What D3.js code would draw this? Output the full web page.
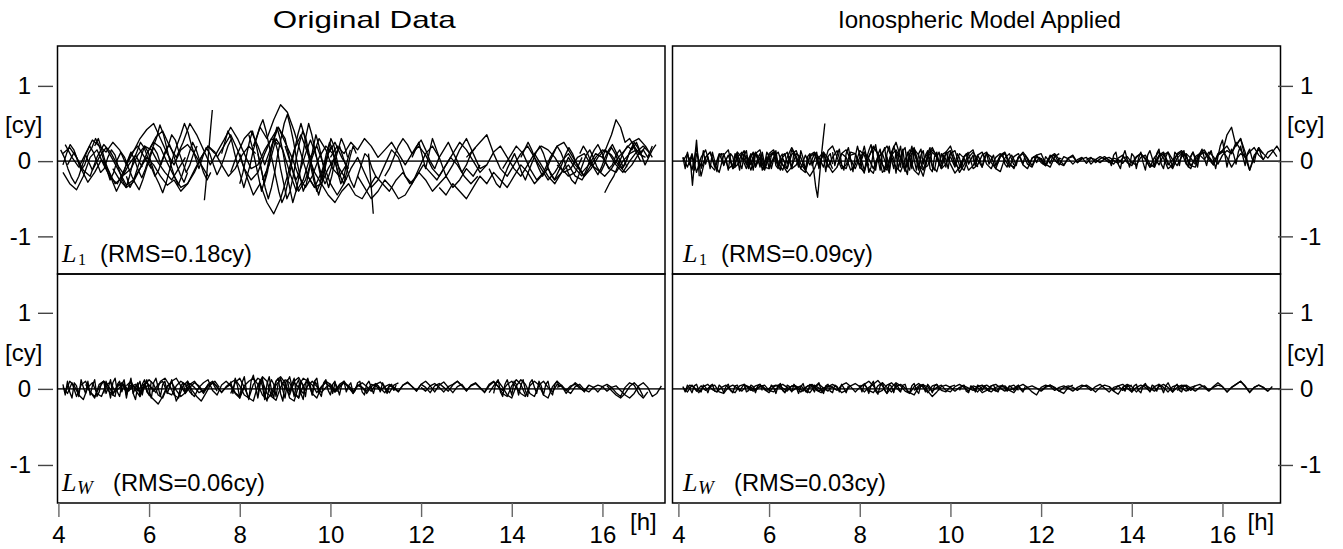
<!DOCTYPE html>
<html>
<head>
<meta charset="utf-8">
<script src="https://cdn.jsdelivr.net/npm/d3@7"></script>
<style>
body { margin: 0; background: #fff; }
text { font-family: "Liberation Sans", sans-serif; fill: #000; }
</style>
</head>
<body>
<svg id="chart"></svg>
<script>
// tick labels and titles
var hourTicks = [4, 6, 8, 10, 12, 14, 16]
var cyTicks = [-1, 0, 1]
var columnTitles = ["Original Data", "Ionospheric Model Applied"]
var rmsTexts = ["(RMS=0.18cy)", "(RMS=0.09cy)", "(RMS=0.06cy)", "(RMS=0.03cy)"]
var signalSubs = ["1", "1", "W", "W"]

// L1, original data: start hour, step (h), residuals in cycles
var l1OrigStart = [4.10, 4.10, 4.15, 4.20, 4.60, 5.20, 6.00, 7.22, 7.50, 7.80, 8.00, 8.30, 8.50, 9.50, 10.00, 10.60, 10.84, 11.80, 12.40, 13.00, 13.80, 14.50, 15.00, 16.00, 16.05,
  4.05, 4.10, 4.80, 5.50, 7.60, 8.00, 8.20, 8.40, 9.00, 11.20, 13.50, 14.20, 15.50]
var l1OrigStep = [.15, .15, .15, .15, .15, .15, .15, .035, .15, .15, .15, .15, .15, .15, .15, .15, .035, .15, .15, .15, .15, .15, .15, .1, .1,
  .08, .08, .08, .08, .07, .07, .07, .07, .08, .1, .08, .08, .08]
var l1OrigVals = [
  [.1,.18,.05,-.12,-.2,.05,.22,.12,-.05,-.18,-.1,.08,.2,.15,-.02,-.15,-.25,-.1,.05],
  [-.15,-.3,-.38,-.2,.05,.15,-.05,-.22,-.3,-.12,.1,.2,.05,-.1],
  [.22,.05,-.08,.1,.28,.2,.12,.25,.15,-.05,.12,.3,.42,.5,.3,.1,-.05,.15,.22,.1,-.05,-.2],
  [-.05,.12,-.1,-.28,-.15,.02,-.12,-.3,-.22,-.05,.08,-.08],
  [.08,-.12,.05,.18,.02,-.15,-.32,-.25,-.1,.1,.25,.18,-.02,-.2,-.35,-.3,-.12,.05,.2,.1],
  [-.1,-.25,-.35,-.28,-.1,.05,-.05,-.2,-.32,-.25,-.4,-.3,-.15,.05,.2,.12,-.05,-.2,-.1,.08,.2,.1],
  [.15,.32,.4,.2,.05,.25,.5,.35,.15,-.05,.12,.28,.45,.3,.1,-.1,-.05,.15,.3,.22],
  [-.52,-.3,-.05,.2,.45,.68],
  [.05,.2,.35,.15,-.1,-.25,-.15,.1,.3,.45,.25,.05,-.2,-.35,-.2,.05,.2,.1,-.1,-.25],
  [-.15,.1,.3,.4,.2,-.05,.2,.45,.3,-.1,-.4,-.25,.05,.3,.15,-.1,-.2,-.05],
  [.1,-.2,-.45,-.3,-.55,-.7,-.5,-.2,.15,.35,.1,-.15,-.3,-.1,.05],
  [.2,.45,.3,.55,.75,.65,.4,.1,-.2,-.35,-.15,.1,.25,.05,-.1],
  [-.25,-.05,.3,.15,-.15,-.4,-.25,.05,.2,-.05,-.3,-.45,-.3,-.1,.05,-.15,-.35,-.25,-.05,.15,.05,-.2,-.3,-.1,.1,.2,.05],
  [-.2,-.35,-.3,-.45,-.55,-.4,-.3,-.45,-.5,-.35,-.2,-.3,-.4,-.25,-.15,-.3,-.2,-.05,-.15,-.25,-.1,.05,-.05,-.2,-.3,-.2],
  [.05,.2,.1,.25,.15,.3,.2,.05,.15,.25,.1,-.05,.1,.2,.08,-.1,-.2,-.05,.1,.25,.15,0,-.15,-.05],
  [-.2,-.35,-.5,-.4,-.25,-.35,-.5,-.45,-.3,-.15,-.25,-.4,-.3,-.2,-.35,-.25,-.1,-.2,-.05],
  [.1,-.15,-.42,-.7],
  [.05,.25,-.1,.3,.05,-.2,-.05,.15,.3,.1,-.1,-.05,.12,.2,.05,-.1,-.2,-.05,.1,.2,.15,.05,-.1,-.2,-.15,.05],
  [-.35,-.45,-.3,-.4,-.5,-.35,-.2,-.3,-.15,-.25,-.35,-.2,-.05,-.15,-.3,-.2,-.1,-.25,-.15,.05,-.1,-.2],
  [.05,.15,.25,.35,.1,-.1,-.2,-.05,.1,.2,.05,-.1,-.25,-.15,0,.1,-.05,-.15,-.05,.1,.05,-.1,-.15,0,.1,.15,.05],
  [-.1,.05,.2,.1,-.1,-.25,-.15,.05,.2,.25,.1,-.05,-.2,-.1,.05,.15,.08,-.05,-.15,-.05,.1,.05],
  [.1,-.05,-.2,-.3,-.15,-.05,-.2,-.25,-.1,.05,.15,.1,-.05,-.15,0,.12,.2,.1],
  [-.05,-.15,-.1,.05,.1,-.05,-.12,-.2,-.1,.05,.15,.25,.3,.2,.05],
  [.05,.2,.35,.55,.45,.25,.3,.2,.1,.15,.05,.2],
  [-.42,-.3,-.2,-.05,.1,.2,.15,.25,.1,.2],
  [.15,.05,-.1,-.22,-.3,-.2,-.05,.1,.2,.12,-.02,-.15,-.1,.05,.15,.08,-.1,-.25,-.35,-.2,0,.12,.25,.18,.05,-.08,-.2,-.12,.02,.15,.22,.1,-.05,-.18,-.28,-.15],
  [-.05,.1,.22,.15,.02,-.12,-.05,.1,.18,.3,.2,.05,-.1,-.25,-.15,.02,.12,.05,-.08,-.2,-.3,-.38,-.25,-.1,.05,.18,.1,-.05,.08,.2,.35,.28,.12,-.02,-.15,-.05,.1,.2],
  [.2,.3,.15,-.02,-.15,-.28,-.4,-.3,-.15,0,.12,.02,-.12,-.22,-.1,.05,.18,.3,.48,.35,.15,-.05,-.2,-.32,-.2,-.05,.1,.25,.15,0,-.15,-.25,-.15],
  [-.2,-.35,-.25,-.1,.05,.2,.12,-.05,-.2,-.3,-.42,-.28,-.1,.08,.22,.35,.5,.38,.2,.05,-.1,.05,.18,.1,-.05,-.18,-.08,.05,.2,.3],
  [.1,.25,.4,.3,.12,-.05,-.2,-.35,-.2,-.05,.15,.3,.45,.55,.4,.2,0,-.2,-.4,-.55,-.45,-.25,-.05,.15,.35,.5,.35,.15,-.05,-.25,-.4,-.3,-.1,.1,.25,.15,-.05,-.2],
  [-.3,-.15,.05,.25,.4,.25,.05,-.15,-.35,-.5,-.35,-.15,.1,.3,.5,.62,.45,.25,0,-.2,-.4,-.3,-.1,.15,.35,.2,0,-.2,-.35,-.2,0,.15,.3,.2,.05],
  [.35,.2,0,-.2,-.4,-.25,-.05,.15,.3,.15,-.1,-.3,-.5,-.4,-.2,.05,.25,.4,.3,.1,-.1,-.3,-.45,-.3,-.1,.1,.2,.05,-.15,-.3,-.2,0,.15],
  [.1,-.1,-.3,-.15,.1,.3,.45,.3,.1,-.15,-.35,-.55,-.4,-.2,.05,.3,.5,.35,.15,-.05,-.25,-.1,.1,.3,.2,0,-.2,-.3,-.15,.05,.2,.1],
  [.2,.05,-.1,-.25,-.15,0,.15,.28,.15,0,-.18,-.3,-.2,-.05,.1,.2,.05,-.1,-.25,-.35,-.2,-.05,.1,.05,-.1,-.2],
  [-.2,-.1,.05,.2,.3,.22,.1,.2,.28,.15,0,-.1,.05,.15,.25,.12,0,-.15,-.05,.1,.18],
  [-.1,-.2,-.3,-.35,-.22,-.1,0,.1,-.02,-.15,-.25,-.12,0,.12,.2,.1,-.05,-.18,-.25,-.15,-.05,.08,.18,.1,-.02,-.12,-.2,-.1,.05,.15,.22,.12,0,-.1,-.05,.08,.15,.05,-.08],
  [.05,.15,.25,.15,.02,-.1,-.2,-.12,0,.1,.2,.12,0,-.15,-.25,-.3,-.18,-.05,.08,.15,.05,-.08,-.15,-.05,.1,.18,.1,-.02,-.1,0,.12,.2,.1,0],
  [.1,.2,.12,0,-.1,-.18,-.08,.05,.15,.22,.12,.02,-.08,.02,.15,.25,.18,.08,-.05,.05,.15,.22]
]

// L1, ionospheric model applied
var l1ModStart = [4.10, 4.10, 4.25, 4.50, 5.50, 6.30, 6.95, 7.00, 7.50, 8.00, 9.00, 10.00, 11.00, 12.00, 13.00, 14.00, 14.50, 15.50,
  4.10, 5.20, 7.40, 8.00, 8.60, 10.50, 13.50, 15.20]
var l1ModStep = [.1, .1, .03, .1, .1, .1, .04, .1, .1, .1, .1, .1, .1, .1, .1, .1, .1, .1,
  .05, .05, .05, .05, .05, .05, .05, .05]
var l1ModVals = [
  [0,.1,-.12,.18,-.2,.05,.12,-.08,.1,-.05,.08,-.1,.05,.12,-.05,.1,-.08,.05,-.1,.08,.12,-.06,.04,-.1,.09,.14,-.04,-.12,.06,.1],
  [.05,-.08,.1,-.15,.05,.15,-.05,-.12,.08,.1,-.1,-.05,.12,.05,-.1,.08,.1,-.05,-.12,.05,.1,-.08,.05,.12,-.1,-.05,.08],
  [.05,-.1,-.32,-.12,.1,.28,.05,-.2],
  [-.1,.05,.12,-.05,-.15,.08,.15,-.1,-.05,.1,.05,-.12,.1,.15,-.08,-.1,.05,.12,-.05,-.1,.15,.05,-.1,.08,-.05,.1,-.08,.12,.04,-.1],
  [.08,-.05,.12,.02,-.1,.1,.15,-.02,-.12,.05,.18,.06,-.1,-.15,.08,.12,-.04,.1,-.08,.05,.14,-.06,-.1,.08,.1,-.05,.12,.03,-.1,.06,.1,-.08],
  [-.05,-.15,-.08,.1,.05,-.12,-.2,-.1,.05,.12,-.05,-.15,-.08,.1,.15,.02,-.1,.05,.12,-.06],
  [0,-.15,-.35,-.48,-.22,.05,.28,.5],
  [.12,.05,-.08,.14,.2,.05,-.1,-.05,.12,.1,-.08,-.14,.06,.18,.1,-.05,-.12,.08,.15,.04,-.1,.05,.16,.08,-.1,-.06,.12,.05,-.08,.1,.14,-.04,-.1,.06,.12],
  [-.08,.1,.05,-.12,-.05,.14,.08,-.1,-.16,.04,.12,.2,.06,-.08,-.14,.02,.15,.1,-.05,-.12,.08,.18,.05,-.1,-.04,.1,.14,-.06,-.12,.05,.12,.02,-.08,.1,.06,-.1,-.14,.04,.1,-.05],
  [.1,-.12,.06,.2,.1,-.15,-.08,.12,.25,.05,-.12,.1,.18,-.05,-.2,.05,.15,.08,-.1,.12,.2,.02,-.15,-.05,.1,.15,-.08],
  [-.1,.05,-.12,-.18,.02,.1,-.06,-.14,.08,.12,-.04,-.16,-.08,.06,.1,-.1,-.05,.08,.12,-.02,-.1,.06,.1,-.05,-.08,.05,.12,.04,-.06,.08,.1,-.04,-.08,.06,.1],
  [.06,-.08,.1,.04,-.12,-.06,.08,.12,-.04,-.1,.05,.1,.02,-.08,.06,.1,-.05,-.1,.04,.08,-.02,-.06,.06,.1,.02,-.05,.04,.08,-.02,.05],
  [-.05,.08,.12,-.02,-.1,.05,.1,-.04,-.08,.06,.02,-.06,.05,.08,-.03,-.06,.04,.06,-.02,.03,.05,-.04,.02,.06,.03,-.02,.04,.02,-.03,.05],
  [.04,-.06,.08,.02,-.05,.06,.03,-.04,.02,.05,-.03,.04,.02,-.02,.03,.05,.01,-.03,.04,.06,-.02,-.05,.05,.08,-.04,-.08,.06,.1,-.05,.02,.08,.12,-.04,-.1,.06,.1],
  [.02,.05,-.02,.03,.06,.01,-.04,.04,.08,-.02,-.06,.05,.1,.04,-.08,-.04,.08,.12,-.02,-.1,.04,.1,.06,-.06,-.08,.08,.12,.02,-.05,.1,.14,.05,-.08,.02,.1,.06],
  [-.04,.06,.1,.02,-.08,.05,.12,.04,-.1,-.05,.1,.14,.06,-.06,.02,.1,.15,.05,-.05,.08,.12,.35,.45,.2,.3,.05,-.12,.08,.15,.1],
  [.05,-.05,.08,.12,.02,-.06,.06,.1,.04,-.04,.1,.12,.06,-.02,.08,.14,.2,.1,.25,.15,.05,.12,.18,.08,.02,.12,.15,.06],
  [.08,.02,.12,.06,-.04,.08,.14,.1,.22,.3,.12,-.12,.05,.18,.1,.04,.12,.2,.1,.02],
  [.05,-.1,.12,-.05,.08,-.12,.1,.02,-.08,.14,-.04,.06,-.1,.12,0,-.14,.08,.1,-.06,.04,-.12,.1,.06,-.08,.12,-.02,-.1,.08,.14,-.06,.02,-.12,.1,.04,-.08,.12,-.04,.06,-.1,.08,.12,-.06,-.1,.06,.1],
  [-.08,.1,.04,-.12,.08,.14,-.02,-.1,.06,.12,-.08,.04,.1,-.12,-.04,.12,.06,-.1,.02,.14,-.06,-.12,.08,.1,-.04,.06,-.1,.12,.02,-.08,.14,.04,-.12,.06,.1,-.06,.02,.12,-.1,.04,.08,-.14,.06,.1,-.04],
  [.12,-.06,.08,.16,-.04,-.12,.1,.18,.02,-.14,.06,.2,.08,-.1,-.16,.04,.14,.22,.06,-.12,.08,.16,-.04,-.14,.1,.2,.02,-.1,.12,.06,-.08,.14,.18,-.06,-.12,.08,.16,.04,-.1,.06],
  [-.1,.08,.2,.05,-.15,-.08,.12,.22,.04,-.12,.1,.18,-.06,-.16,.06,.2,.1,-.1,.04,.16,-.08,-.18,.08,.2,.02,-.12,.1,.16,-.04,.08,.14,-.1,-.14,.06,.12,-.06,.1,.04,-.08,.12],
  [.06,-.12,.1,.04,-.16,.08,.2,-.04,-.14,.12,.06,-.1,.16,.02,-.12,.08,.14,-.06,.1,.18,-.08,-.12,.06,.12,-.04,.08,.02,-.1,.12,.06,-.06,.1,.04,-.08,.06,.1,-.04,.02,.08,-.06],
  [.04,-.06,.08,.02,-.08,.06,.1,-.04,.02,.08,-.06,-.02,.06,.1,-.04,-.08,.04,.08,.02,-.06,.06,.04,-.04,.08,.02,-.05,.04,.06,-.02,.05,.03,-.04,.06,.02,-.03,.05,.02,-.02,.04,.03],
  [.02,-.06,.08,.12,-.04,-.1,.06,.14,.02,-.08,.1,.06,-.1,.04,.12,-.02,-.12,.08,.14,.04,-.08,.1,.16,-.04,-.1,.06,.12,.02,-.08,.12,.08,-.06,.1,.14,-.02,-.08,.06,.12,.04,-.06],
  [.1,-.04,.06,.12,.02,-.08,.1,.16,.04,-.06,.08,.14,.02,-.1,.06,.2,.28,.1,-.08,.06,.16,.08,-.04,.12,.2,.06,-.06,.1,.16,.04,-.02,.12,.18,.08,.02]
]

// widelane, original data
var lwOrigStart = [4.10, 4.15, 4.60, 5.50, 6.80, 7.80, 9.00, 10.50, 12.00, 13.50, 15.00, 16.10,
  4.10, 5.00, 7.80, 8.40, 10.00, 13.60]
var lwOrigStep = [.1, .1, .1, .1, .1, .1, .1, .1, .1, .1, .1, .1,
  .05, .05, .05, .05, .05, .05]
var lwOrigVals = [
  [.02,-.06,.08,-.1,.05,.1,-.04,-.12,.06,.1,-.02,-.08,.05,.08,-.05,.03,.06,-.04,.02,.05,-.03,.06,.1,-.05,-.08,.04,.1,.06,-.04,-.1,.02,.08,.12,-.02,-.08,.05,.1,.04,-.06,-.12,.02],
  [-.05,.1,.04,-.08,-.14,.02,.08,-.06,-.1,.05,.09,-.04,.02,.06,-.03,.04,-.02,.05,.08,.02,-.05,.1,.14,.05,-.08,-.12,.04,.1,-.02,-.1,-.16,-.06,.05,.1,.02],
  [.06,-.04,-.1,.02,.1,.04,-.06,.03,.07,-.02,.05,.02,-.04,.06,-.08,-.14,-.2,-.1,.04,.08,-.02,-.1,-.05,.06,.1,.02,-.06,.04,.08,-.03],
  [.04,.1,-.02,-.1,.05,.12,.06,-.08,-.12,.02,.1,.14,.04,-.06,.02,.08,.04,-.04,.06,.1,.02,-.05,.03,.08,.12,.04,-.08,-.12,.06,.14,.1,-.06,-.1,.05,.12,.02,-.08,.1,.15,.04],
  [.03,.07,.02,-.05,-.02,.04,.08,.03,-.04,.02,.06,-.05,-.1,.04,.1,.14,.06,-.08,-.14,-.06,.1,.16,.08,-.12,-.16,.04,.14,.1,-.06,-.12,.02,.1,.06,-.04,.02,.08,.04,-.02],
  [-.06,.08,.14,.02,-.12,-.16,.05,.16,.1,-.1,-.15,.02,.12,.08,-.06,-.12,.04,.1,.05,-.05,.03,.08,.02,-.04,.06,.1,.02,-.06,.04,.08,.03,-.03,.06,.09,.02,-.05,.05,.08],
  [.05,-.04,.08,.02,-.06,.04,.1,.03,-.05,.02,.06,-.02,.04,.08,.02,-.04,.05,.02,-.03,.06,.04,-.02,.03,.06,.01,-.04,.05,.09,.03,-.03,.06,.02,-.05,.04,.07,.02,-.03,.05,.1,.04],
  [-.04,.05,.02,-.06,.03,.07,.01,-.05,.04,.02,-.03,.05,.08,.03,-.02,.06,.1,.04,-.04,.05,.09,.02,-.05,.03,.06,-.02,.04,.07,.01,-.04,.06,.1,.03,-.06,-.1,.04,.12,.06,-.08],
  [.02,-.03,.04,.07,.02,-.04,.03,.06,.1,.04,-.03,.05,.08,.02,-.05,.04,.09,.03,-.02,.06,.1,.02,-.06,-.1,.04,.1,.05,-.08,-.12,.03,.1,.04,-.06,.02,.08,.03,-.04,.05],
  [-.05,.04,.1,.02,-.08,-.12,.04,.12,.06,-.06,-.1,.05,.1,.02,-.04,.06,.03,-.02,.04,.06,.01,-.03,.05,.02,-.04,.03,.06,.02,-.05,-.1,.02,.08,.05,-.06,-.12,-.04],
  [.02,.05,-.02,-.06,.03,.06,-.01,-.04,.02,.05,.03,-.03,.02,.04,-.02,-.08,-.12,-.06,.04,.08,.02,-.1,-.06,.04],
  [.04,-.02,-.08,-.12,-.06,.03,.08,.02,-.1],
  [.06,-.08,.1,-.04,-.12,.08,.04,-.1,.12,.02,-.06,.1,-.08,.04,.12,-.1,-.04,.08,.1,-.06,.02,.12,-.08,-.1,.06,.1,-.04,.08,-.12,.04,.1,-.06,.02,.08,-.1,.06,.12,-.04,-.08,.1],
  [-.06,.1,.02,-.12,.08,.14,-.04,-.1,.06,.12,-.08,.02,.14,-.06,-.14,.04,.1,-.08,.06,.12,-.02,-.12,.08,.14,.02,-.1,.06,.1,-.06,.02,.12,-.04,-.16,-.1,.04,.08,-.06,.1,.02,-.08],
  [.1,-.06,.14,.04,-.12,.08,.16,-.04,-.14,.1,.18,.02,-.12,.06,.14,-.08,-.16,.04,.12,.06,-.1,.08,.14,-.02,-.12,.1,.16,.04,-.1,.06,.12,-.06,-.14,.08,.14,.02,-.08,.1,.06,-.06],
  [-.08,.12,.04,-.14,.06,.16,-.02,-.12,.1,.14,-.06,-.16,.08,.12,-.04,.06,.14,-.08,-.12,.1,.04,-.1,.12,.06,-.08,.1,.14,-.04,-.1,.08,.12,-.02,-.08,.06,.1,-.04],
  [.04,-.06,.08,.02,-.08,.06,.1,-.04,.04,.08,-.06,-.02,.08,.1,-.04,-.08,.06,.1,.02,-.06,.06,.04,-.04,.08,.02,-.06,.04,.06,-.02,.05],
  [-.06,.08,.12,-.04,-.1,.06,.12,.02,-.08,.1,.06,-.08,.04,.12,-.02,-.1,.08,.12,.02,-.06,.1,.04,-.08,.06,.1,-.04,-.08,.06,.1,.02]
]

// widelane, ionospheric model applied
var lwModStart = [4.10, 4.15, 5.50, 6.80, 8.00, 9.20, 10.50, 12.00, 13.50, 15.00,
  4.10, 6.00, 8.00, 10.20, 13.80]
var lwModStep = [.1, .1, .1, .1, .1, .1, .1, .1, .1, .1,
  .05, .05, .05, .05, .05]
var lwModVals = [
  [.02,-.04,.05,-.03,.04,-.02,.03,.05,-.04,-.06,.02,.05,.01,-.03,.04,.02,-.02,.03,.05,-.02,-.04,.03,.06,.02,-.03,.01,.04,-.02,-.05,.03,.06,.01,-.03,.04],
  [-.03,.05,.02,-.05,.03,.06,-.01,-.04,.02,.05,-.02,-.05,.04,.06,.02,-.03,.02,.04,-.02,.03,.05,.01,-.04,.02,.05,.02,-.03,.04,.06,-.02,-.05,.02],
  [.03,-.02,.04,.06,-.01,-.05,.03,.05,.01,-.03,.04,.02,-.04,.02,.05,.03,-.03,.01,.04,.02,-.02,.05,.08,.03,-.04,.02,.06,.1,.04,-.05,-.02,.05,.08,.02,-.04],
  [-.04,.02,.05,.01,-.03,.03,.06,.02,-.05,-.02,.04,.07,.03,-.04,.02,.06,.11,.04,-.06,.02,.08,.04,-.03,-.06,.03,.07,.02,-.05,.04,.06,-.02,-.04,.03,.05],
  [.03,.06,-.02,-.05,.04,.08,.02,-.04,.03,.06,.01,-.05,-.08,.02,.05,.03,-.03,.02,.05,-.02,-.04,.03,.06,.02,-.03,.04,.02,-.05,-.02,.04,.06,.01,-.03,.03,.05,-.02],
  [-.02,.04,.06,-.03,-.1,-.04,.03,.05,.02,-.03,.02,.04,.01,-.02,.03,.05,-.01,-.04,.02,.04,.02,-.02,.01,.03,-.02,.02,.04,.01,-.03,.02,.05,.02,-.03,-.06,.02,.05],
  [.02,-.04,.03,.05,.01,-.03,.02,.04,-.02,-.05,.03,.06,.02,-.04,-.08,.02,.05,.03,-.02,.02,.04,.01,-.03,.02,.05,.03,-.02,.03,.06,.01,-.04,.02,.04,-.02,.03,.05],
  [-.02,.03,.05,.01,-.03,.02,.04,.02,-.02,.03,.05,.01,-.04,.02,.05,.03,-.03,-.07,.02,.06,.03,-.04,.02,.05,.01,-.03,.03,.06,.02,-.04,.02,.05,.03,-.02,.04],
  [.03,-.02,.04,.06,.01,-.04,.02,.05,.02,-.03,.03,.06,.02,-.04,.03,.05,.01,-.03,.02,.04,.06,.02,-.03,.03,.08,.03,-.04,.02,.06,.1,.03,-.05,.02,.05,.02,-.03,.03],
  [-.02,.03,.05,.01,-.03,.02,.04,-.02,.02,.05,.03,-.04,.02,.06,.1,.04,-.04,.02,.05,.02,-.03],
  [.03,-.04,.05,.01,-.05,.04,.06,-.02,-.04,.05,.02,-.05,.04,.06,-.03,-.04,.05,.02,-.05,.03,.06,-.02,-.05,.04,.05,-.03,.02,.06,-.04,-.02,.05,.03,-.05,.04,.06,-.02],
  [-.03,.05,.02,-.06,.04,.07,-.02,-.05,.05,.03,-.04,.06,.02,-.06,.03,.07,-.03,-.05,.06,.02,-.04,.05,.08,-.02,-.06,.04,.06,-.03,-.05,.05,.03,-.04,.06,.01,-.05,.04],
  [.05,-.04,.07,.02,-.06,.05,.1,-.03,-.07,.04,.08,-.02,-.06,.06,.03,-.05,.07,.02,-.04,.05,.06,-.03,-.05,.04,.07,-.02,-.06,.05,.03,-.04,.06,.02,-.05,.04,.06,-.02],
  [-.02,.04,.05,-.03,-.05,.04,.02,-.04,.05,.03,-.02,.04,.01,-.03,.04,.05,-.02,-.04,.03,.05,.01,-.03,.04,.02,-.02,.03,.05,-.01,-.04,.03],
  [.03,-.03,.05,.02,-.04,.04,.06,-.02,-.05,.04,.07,.01,-.04,.05,.03,-.03,.06,.02,-.05,.04,.08,.02,-.04,.03,.06,-.02,-.04,.05,.03,-.03]
]

var screen = {width: 1343, height: 549}
var cols = [
  {left: 57.5, right: 665, domain: [3.98, 17.38], labelX: 62},
  {left: 672.5, right: 1280.5, domain: [3.87, 17.28], labelX: 683}
]
var rows = [
  {top: 46, bottom: 274, domain: [-1.5, 1.53]},
  {top: 274, bottom: 503, domain: [-1.5, 1.51]}
]

var panels = [
  {row: 0, col: 0, start: l1OrigStart, step: l1OrigStep, vals: l1OrigVals},
  {row: 0, col: 1, start: l1ModStart, step: l1ModStep, vals: l1ModVals},
  {row: 1, col: 0, start: lwOrigStart, step: lwOrigStep, vals: lwOrigVals},
  {row: 1, col: 1, start: lwModStart, step: lwModStep, vals: lwModVals}
]

var svg = d3.select("#chart")
  .attr("width", screen.width)
  .attr("height", screen.height)

var xScales = cols.map(function(c) {
  return d3.scaleLinear().domain(c.domain).range([c.left, c.right])
})
var yScales = rows.map(function(r) {
  return d3.scaleLinear().domain(r.domain).range([r.bottom, r.top])
})

// column titles
svg.selectAll(".title")
  .data(columnTitles)
  .enter()
  .append("text")
  .attr("class", "title")
  .attr("x", function(d, i) { return (cols[i].left + cols[i].right) / 2 + 3 })
  .attr("y", 28)
  .attr("text-anchor", "middle")
  .attr("font-size", 24)
  .attr("textLength", function(d, i) { return i == 0 ? 183 : 283 })
  .attr("lengthAdjust", "spacingAndGlyphs")
  .text(function(d) { return d })

panels.forEach(function(p, k) {
  var x = xScales[p.col]
  var y = yScales[p.row]
  var c = cols[p.col]
  var r = rows[p.row]
  var g = svg.append("g")

  g.append("clipPath")
    .attr("id", "clip" + k)
    .append("rect")
    .attr("x", c.left).attr("y", r.top)
    .attr("width", c.right - c.left).attr("height", r.bottom - r.top)

  // zero line
  g.append("line")
    .attr("x1", c.left).attr("x2", c.right)
    .attr("y1", y(0)).attr("y2", y(0))
    .attr("stroke", "#333")
    .attr("stroke-width", 1.6)

  var line = d3.line()
    .x(function(d) { return x(d[0]) })
    .y(function(d) { return y(d[1]) })

  g.append("g")
    .attr("clip-path", "url(#clip" + k + ")")
    .selectAll("path")
    .data(p.vals.map(function(v, j) {
      return v.map(function(val, i) { return [p.start[j] + i * p.step[j], val] })
    }))
    .enter()
    .append("path")
    .attr("d", line)
    .attr("fill", "none")
    .attr("stroke", "#000")
    .attr("stroke-width", 1.35)
    .attr("stroke-linejoin", "round")

  g.append("rect")
    .attr("x", c.left).attr("y", r.top)
    .attr("width", c.right - c.left).attr("height", r.bottom - r.top)
    .attr("fill", "none")
    .attr("stroke", "#000")
    .attr("stroke-width", 1.5)

  // panel label: L with subscript, then RMS
  var base = r.bottom - 12
  g.append("text")
    .attr("x", c.labelX).attr("y", base)
    .attr("font-style", "italic")
    .attr("font-size", 26)
    .style("font-family", "'Liberation Serif', serif")
    .text("L")
  var sub = signalSubs[k]
  g.append("text")
    .attr("x", c.labelX + (sub == "W" ? 15 : 16)).attr("y", base + 3)
    .attr("font-size", sub == "W" ? 19 : 16)
    .attr("font-style", sub == "W" ? "italic" : "normal")
    .style("font-family", "'Liberation Serif', serif")
    .text(sub)
  g.append("text")
    .attr("x", c.labelX + (sub == "W" ? 51 : 38)).attr("y", base)
    .attr("font-size", 23)
    .attr("textLength", 152)
    .attr("lengthAdjust", "spacingAndGlyphs")
    .text(rmsTexts[k])

  // y axis (left of left column, right of right column)
  var yAxis = p.col == 0 ? d3.axisLeft(y) : d3.axisRight(y)
  yAxis.tickValues(cyTicks).tickSize(15).tickPadding(7).tickFormat(d3.format("d"))
  var ax = svg.append("g")
    .attr("transform", "translate(" + (p.col == 0 ? 53 : 1278) + ",0)")
    .call(yAxis)
  ax.select(".domain").remove()
  ax.selectAll("line").attr("stroke", "#444").attr("stroke-width", 1.4)
  ax.selectAll("text").attr("font-size", 24).attr("font-family", null).text(function(d) { return d < 0 ? "-1" : d })

  svg.append("text")
    .attr("x", p.col == 0 ? 5 : 1287)
    .attr("y", y(0) - 28)
    .attr("font-size", 24)
    .text("[cy]")

  // hour axis under the bottom row
  if (p.row == 1) {
    var xAxis = d3.axisBottom(x).tickValues(hourTicks).tickSize(14).tickPadding(9).tickFormat(d3.format("d"))
    var bx = svg.append("g")
      .attr("transform", "translate(0," + r.bottom + ")")
      .call(xAxis)
    bx.select(".domain").remove()
    bx.selectAll("line").attr("stroke", "#666").attr("stroke-width", 1.4)
    bx.selectAll("text").attr("font-size", 24).attr("font-family", null)

    svg.append("text")
      .attr("x", c.right - (p.col == 0 ? 35 : 33))
      .attr("y", 530)
      .attr("font-size", 24)
      .text("[h]")
  }
})
</script>
</body>
</html>
